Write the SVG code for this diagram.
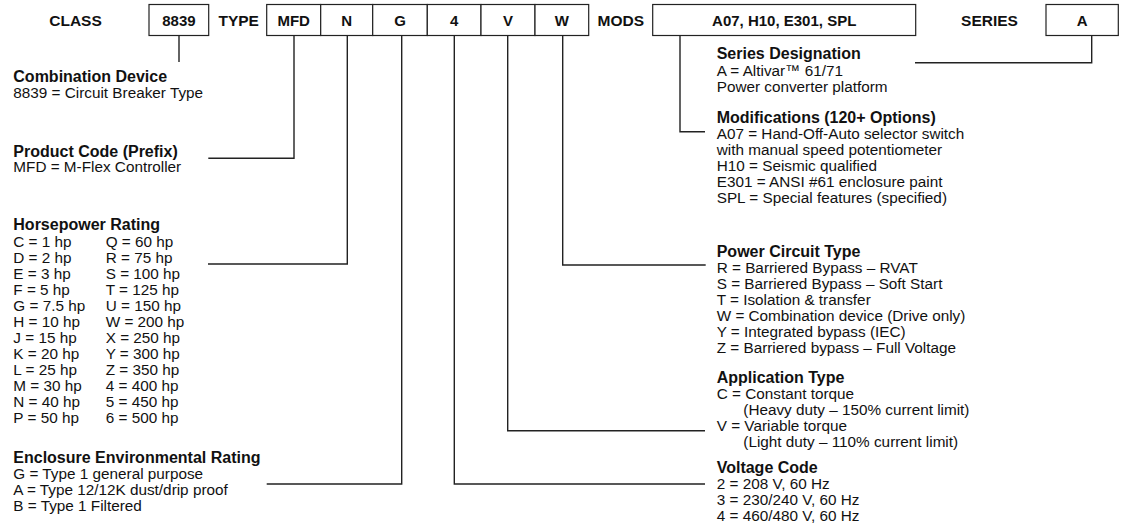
<svg xmlns="http://www.w3.org/2000/svg" width="1140" height="529" viewBox="0 0 1140 529">
<style>
text{font-family:"Liberation Sans",Arial,Helvetica,sans-serif;fill:#111}
.lbl{font-size:15.5px;font-weight:bold;text-anchor:middle}
.box rect{fill:#fff;stroke:#222;stroke-width:1.2}
.box text{font-size:15px;font-weight:bold;text-anchor:middle}
.h{font-size:16px;font-weight:bold}
.b{font-size:15.3px}
#connectors path{fill:none;stroke:#222;stroke-width:1.4}
</style>
<rect width="1140" height="529" fill="#fff"/>
<g id="labels">
<text class="lbl" x="75.5" y="26">CLASS</text>
<text class="lbl" x="238.7" y="26">TYPE</text>
<text class="lbl" x="620.8" y="26">MODS</text>
<text class="lbl" x="989.5" y="26">SERIES</text>
</g>
<g id="box-8839" class="box"><rect x="149" y="4.5" width="59.7" height="31"/><text x="178.9" y="26">8839</text></g>
<g id="box-mfd" class="box"><rect x="266.7" y="4.5" width="54" height="31"/><text x="293.7" y="26">MFD</text></g>
<g id="box-n" class="box"><rect x="320.7" y="4.5" width="52" height="31"/><text x="346.7" y="26">N</text></g>
<g id="box-g" class="box"><rect x="372.7" y="4.5" width="54.6" height="31"/><text x="400" y="26">G</text></g>
<g id="box-4" class="box"><rect x="427.3" y="4.5" width="53.7" height="31"/><text x="454.2" y="26">4</text></g>
<g id="box-v" class="box"><rect x="481" y="4.5" width="54" height="31"/><text x="508" y="26">V</text></g>
<g id="box-w" class="box"><rect x="535" y="4.5" width="53.7" height="31"/><text x="561.9" y="26">W</text></g>
<g id="box-mods" class="box"><rect x="652.7" y="4.5" width="263" height="31"/><text x="784.2" y="26">A07, H10, E301, SPL</text></g>
<g id="box-series" class="box"><rect x="1046" y="4.5" width="72.3" height="31"/><text x="1082.2" y="26">A</text></g>
<g id="connectors">
<path d="M179 35.5V62"/>
<path d="M294 35.5V158.3H208.3"/>
<path d="M347.3 35.5V264H208"/>
<path d="M401.7 35.5V484H266.7"/>
<path d="M454.3 35.5V484H705"/>
<path d="M507.7 35.5V430.7H705"/>
<path d="M562.7 35.5V265H705.7"/>
<path d="M680 35.5V131.7H705"/>
<path d="M1091.7 35.5V62.7H915"/>
</g>
<g id="combination-device">
<text class="h" x="13.3" y="82">Combination Device</text>
<text class="b" x="13.3" y="97.5">8839 = Circuit Breaker Type</text>
</g>
<g id="product-code">
<text class="h" x="13.3" y="156.7">Product Code (Prefix)</text>
<text class="b" x="13.3" y="171.7">MFD = M-Flex Controller</text>
</g>
<g id="horsepower">
<text class="h" x="13.3" y="230">Horsepower Rating</text>
<text class="b" x="13.3" y="246.7">C = 1 hp</text><text class="b" x="105.7" y="246.7">Q = 60 hp</text>
<text class="b" x="13.3" y="262.7">D = 2 hp</text><text class="b" x="105.7" y="262.7">R = 75 hp</text>
<text class="b" x="13.3" y="278.7">E = 3 hp</text><text class="b" x="105.7" y="278.7">S = 100 hp</text>
<text class="b" x="13.3" y="294.7">F = 5 hp</text><text class="b" x="105.7" y="294.7">T = 125 hp</text>
<text class="b" x="13.3" y="310.7">G = 7.5 hp</text><text class="b" x="105.7" y="310.7">U = 150 hp</text>
<text class="b" x="13.3" y="326.7">H = 10 hp</text><text class="b" x="105.7" y="326.7">W = 200 hp</text>
<text class="b" x="13.3" y="342.7">J = 15 hp</text><text class="b" x="105.7" y="342.7">X = 250 hp</text>
<text class="b" x="13.3" y="358.7">K = 20 hp</text><text class="b" x="105.7" y="358.7">Y = 300 hp</text>
<text class="b" x="13.3" y="374.7">L = 25 hp</text><text class="b" x="105.7" y="374.7">Z = 350 hp</text>
<text class="b" x="13.3" y="390.7">M = 30 hp</text><text class="b" x="105.7" y="390.7">4 = 400 hp</text>
<text class="b" x="13.3" y="406.7">N = 40 hp</text><text class="b" x="105.7" y="406.7">5 = 450 hp</text>
<text class="b" x="13.3" y="422.7">P = 50 hp</text><text class="b" x="105.7" y="422.7">6 = 500 hp</text>
</g>
<g id="enclosure">
<text class="h" x="13.3" y="463.3">Enclosure Environmental Rating</text>
<text class="b" x="13.3" y="478.7">G = Type 1 general purpose</text>
<text class="b" x="13.3" y="494.7">A = Type 12/12K dust/drip proof</text>
<text class="b" x="13.3" y="510.7">B = Type 1 Filtered</text>
</g>
<g id="series">
<text class="h" x="716.7" y="59.3">Series Designation</text>
<text class="b" x="716.7" y="75.7">A = Altivar™ 61/71</text>
<text class="b" x="716.7" y="91.7">Power converter platform</text>
</g>
<g id="modifications">
<text class="h" x="716.7" y="123.3">Modifications (120+ Options)</text>
<text class="b" x="716.7" y="139.3">A07 = Hand-Off-Auto selector switch</text>
<text class="b" x="716.7" y="155.3">with manual speed potentiometer</text>
<text class="b" x="716.7" y="171.3">H10 = Seismic qualified</text>
<text class="b" x="716.7" y="187.3">E301 = ANSI #61 enclosure paint</text>
<text class="b" x="716.7" y="203.3">SPL = Special features (specified)</text>
</g>
<g id="power-circuit">
<text class="h" x="716.7" y="257.3">Power Circuit Type</text>
<text class="b" x="716.7" y="273.3">R = Barriered Bypass – RVAT</text>
<text class="b" x="716.7" y="289.3">S = Barriered Bypass – Soft Start</text>
<text class="b" x="716.7" y="305.3">T = Isolation &amp; transfer</text>
<text class="b" x="716.7" y="321.3">W = Combination device (Drive only)</text>
<text class="b" x="716.7" y="337.3">Y = Integrated bypass (IEC)</text>
<text class="b" x="716.7" y="353.3">Z = Barriered bypass – Full Voltage</text>
</g>
<g id="application">
<text class="h" x="716.7" y="382.7">Application Type</text>
<text class="b" x="716.7" y="398.7">C = Constant torque</text>
<text class="b" x="743.3" y="414.7">(Heavy duty – 150% current limit)</text>
<text class="b" x="716.7" y="430.7">V = Variable torque</text>
<text class="b" x="743.3" y="446.7">(Light duty – 110% current limit)</text>
</g>
<g id="voltage">
<text class="h" x="716.7" y="473.3">Voltage Code</text>
<text class="b" x="716.7" y="489">2 = 208 V, 60 Hz</text>
<text class="b" x="716.7" y="505">3 = 230/240 V, 60 Hz</text>
<text class="b" x="716.7" y="521">4 = 460/480 V, 60 Hz</text>
</g>
</svg>
